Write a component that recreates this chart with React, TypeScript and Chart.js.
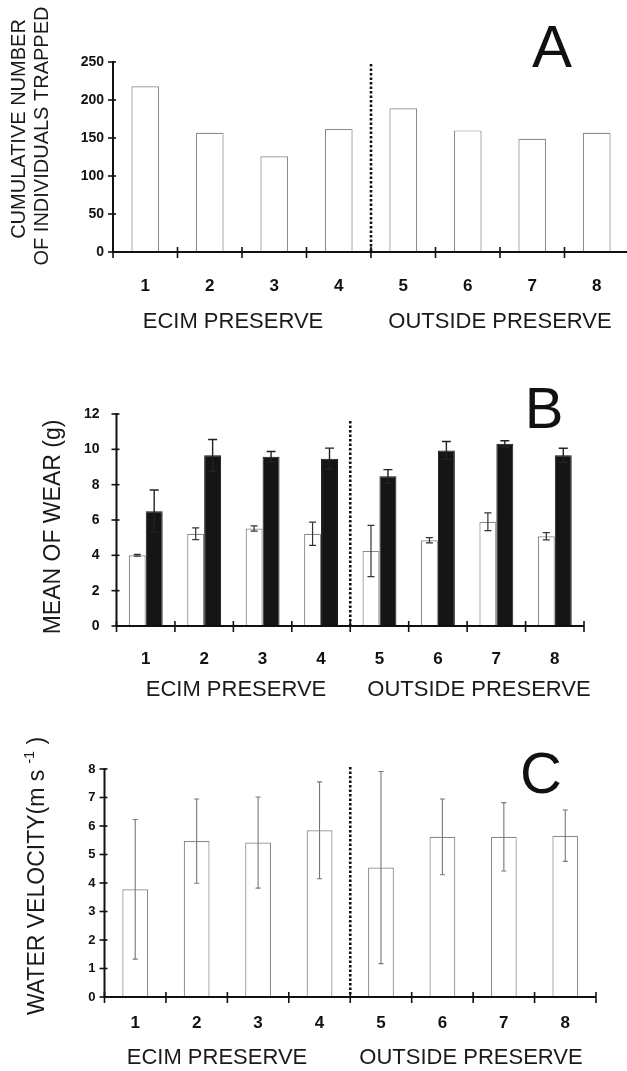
import React, { useEffect, useRef } from "react";
import { Chart, registerables } from "chart.js";

Chart.register(...registerables);

// ---------- data ----------
const sites = ["1", "2", "3", "4", "5", "6", "7", "8"];
const groupLabels = ["ECIM PRESERVE", "OUTSIDE PRESERVE"];

const trapped = [218, 157, 126, 162, 189, 160, 149, 157];

const wearWhite = [4.0, 5.22, 5.52, 5.22, 4.25, 4.85, 5.9, 5.08];
const wearWhiteErr = [0.05, 0.33, 0.15, 0.66, 1.45, 0.15, 0.5, 0.2];
const wearBlack = [6.5, 9.66, 9.58, 9.47, 8.47, 9.94, 10.32, 9.66];
const wearBlackErr = [1.2, 0.9, 0.3, 0.6, 0.38, 0.5, 0.17, 0.4];

const velocity = [3.78, 5.47, 5.42, 5.85, 4.54, 5.62, 5.62, 5.66];
const velocityErr = [2.45, 1.48, 1.6, 1.7, 3.37, 1.33, 1.2, 0.9];

const FONT = "'Liberation Sans', Arial, sans-serif";
Chart.defaults.font.family = FONT;

type Piece = { text: string; size: number; raise?: number };

const decorPlugin = {
  id: "decor",
  afterDraw(chart: any, _args: any, o: any) {
    const ctx = chart.ctx as CanvasRenderingContext2D;
    const ca = chart.chartArea;
    const xs = chart.scales.x;
    const ys = chart.scales.y;
    const n = chart.data.labels.length;
    const half = (xs.getPixelForValue(1) - xs.getPixelForValue(0)) / 2;
    ctx.save();

    // error bars
    (o.errors || []).forEach((e: any) => {
      const meta = chart.getDatasetMeta(e.dataset);
      const vals = chart.data.datasets[e.dataset].data;
      ctx.strokeStyle = e.color;
      ctx.lineWidth = e.width;
      meta.data.forEach((bar: any, i: number) => {
        const v = vals[i];
        const er = e.errs[i];
        const yt = ys.getPixelForValue(v + er);
        const yb = ys.getPixelForValue(v - er);
        const x = bar.x;
        ctx.beginPath();
        ctx.moveTo(x, yt);
        ctx.lineTo(x, yb);
        ctx.moveTo(x - e.cap / 2, yt);
        ctx.lineTo(x + e.cap / 2, yt);
        ctx.moveTo(x - e.cap / 2, yb);
        ctx.lineTo(x + e.cap / 2, yb);
        ctx.stroke();
      });
    });

    // axes
    ctx.strokeStyle = "#111";
    ctx.lineWidth = 2;
    ctx.beginPath();
    ctx.moveTo(ca.left, ca.top - 1);
    ctx.lineTo(ca.left, ca.bottom + 1);
    ctx.moveTo(ca.left - 1, ca.bottom);
    ctx.lineTo(o.axisRight ?? ca.right, ca.bottom);
    ctx.stroke();

    ctx.lineWidth = 1.6;
    ys.ticks.forEach((t: any) => {
      const y = ys.getPixelForValue(t.value);
      ctx.beginPath();
      ctx.moveTo(ca.left - 5, y);
      ctx.lineTo(ca.left + 3, y);
      ctx.stroke();
    });
    for (let i = 0; i <= n; i++) {
      const x = i < n ? xs.getPixelForValue(i) - half : xs.getPixelForValue(n - 1) + half;
      ctx.beginPath();
      ctx.moveTo(x, ca.bottom - 5);
      ctx.lineTo(x, ca.bottom + 6);
      ctx.stroke();
    }

    // dotted divider between site 4 and 5
    const xd = (xs.getPixelForValue(3) + xs.getPixelForValue(4)) / 2;
    ctx.setLineDash([2.5, 2]);
    ctx.lineWidth = 2.6;
    ctx.beginPath();
    ctx.moveTo(xd, ca.top + o.dotOffset);
    ctx.lineTo(xd, ca.bottom);
    ctx.stroke();
    ctx.setLineDash([]);

    // panel letter
    ctx.fillStyle = "#111";
    ctx.textAlign = "center";
    ctx.textBaseline = "alphabetic";
    ctx.font = `${o.letterSize}px ${FONT}`;
    ctx.fillText(o.letter, o.letterX, o.letterY);

    // group labels
    ctx.fillStyle = "#1a1a1a";
    ctx.textBaseline = "middle";
    ctx.font = `22px ${FONT}`;
    o.groups.forEach((g: any, i: number) => {
      ctx.fillText(groupLabels[i], g, o.groupY);
    });

    // rotated y titles
    o.titles.forEach((t: any) => {
      ctx.save();
      ctx.translate(t.x, t.y);
      ctx.rotate(-Math.PI / 2);
      ctx.textAlign = "left";
      ctx.textBaseline = "middle";
      let total = 0;
      t.pieces.forEach((p: Piece) => {
        ctx.font = `${p.size}px ${FONT}`;
        total += ctx.measureText(p.text).width;
      });
      let cx = -total / 2;
      t.pieces.forEach((p: Piece) => {
        ctx.font = `${p.size}px ${FONT}`;
        ctx.fillText(p.text, cx, -(p.raise || 0));
        cx += ctx.measureText(p.text).width;
      });
      ctx.restore();
    });

    ctx.restore();
  },
};

function makeOptions(p: any) {
  return {
    responsive: false,
    maintainAspectRatio: false,
    animation: false,
    layout: { padding: { left: 0, top: p.top, right: p.padRight, bottom: 0 } },
    plugins: {
      legend: { display: false },
      tooltip: { enabled: false },
      decor: p.decor,
    },
    scales: {
      x: {
        type: "category",
        offset: true,
        grid: { display: false, drawTicks: false, tickLength: 0 },
        border: { display: false },
        ticks: {
          padding: p.xPad,
          color: "#111",
          font: { size: 17, weight: "bold" },
          maxRotation: 0,
          autoSkip: false,
        },
        afterFit: (s: any) => {
          s.height = p.xHeight;
        },
      },
      y: {
        min: 0,
        max: p.max,
        grid: { display: false, drawTicks: false, tickLength: 0 },
        border: { display: false },
        ticks: {
          stepSize: p.step,
          padding: p.yPad,
          color: "#111",
          font: { size: p.yFont, weight: "bold" },
        },
        afterFit: (s: any) => {
          s.width = p.left;
        },
      },
    },
  };
}

export default function App() {
  const refA = useRef<HTMLCanvasElement>(null);
  const refB = useRef<HTMLCanvasElement>(null);
  const refC = useRef<HTMLCanvasElement>(null);

  useEffect(() => {
    document.body.style.margin = "0";
    const charts: Chart[] = [];

    charts.push(
      new Chart(refA.current!, {
        type: "bar",
        data: {
          labels: sites,
          datasets: [
            {
              data: trapped,
              backgroundColor: "#ffffff",
              borderColor: "#8a8a8a",
              borderWidth: 1.2,
              barPercentage: 0.43,
              categoryPercentage: 1,
            },
          ],
        },
        options: makeOptions({
          top: 62,
          padRight: 11,
          left: 113,
          xHeight: 345 - 252,
          xPad: 24,
          yPad: 9,
          yFont: 14,
          max: 250,
          step: 50,
          decor: {
            axisRight: 640,
            dotOffset: 2,
            letter: "A",
            letterSize: 60,
            letterX: 552,
            letterY: 67,
            groups: [233, 500],
            groupY: 322,
            errors: [],
            titles: [
              { x: 19, y: 129, pieces: [{ text: "CUMULATIVE NUMBER", size: 20 }] },
              { x: 42, y: 136, pieces: [{ text: "OF INDIVIDUALS TRAPPED", size: 20 }] },
            ],
          },
        }),
        plugins: [decorPlugin],
      } as any)
    );

    charts.push(
      new Chart(refB.current!, {
        type: "bar",
        data: {
          labels: sites,
          datasets: [
            {
              data: wearWhite,
              backgroundColor: "#ffffff",
              borderColor: "#8a8a8a",
              borderWidth: 1.2,
              barPercentage: 1,
              categoryPercentage: 0.58,
            },
            {
              data: wearBlack,
              backgroundColor: "#151515",
              borderColor: "#151515",
              borderWidth: 1,
              barPercentage: 1,
              categoryPercentage: 0.58,
            },
          ],
        },
        options: makeOptions({
          top: 69,
          padRight: 43,
          left: 116.5,
          xHeight: 360 - 281,
          xPad: 23,
          yPad: 17,
          yFont: 14,
          max: 12,
          step: 2,
          decor: {
            dotOffset: 7,
            letter: "B",
            letterSize: 58,
            letterX: 544,
            letterY: 83,
            groups: [236, 479],
            groupY: 345,
            errors: [
              { dataset: 0, errs: wearWhiteErr, color: "#333", width: 1.2, cap: 7 },
              { dataset: 1, errs: wearBlackErr, color: "#222", width: 1.4, cap: 9 },
            ],
            titles: [{ x: 54, y: 182, pieces: [{ text: "MEAN OF WEAR (g)", size: 23 }] }],
          },
        }),
        plugins: [decorPlugin],
      } as any)
    );

    charts.push(
      new Chart(refC.current!, {
        type: "bar",
        data: {
          labels: sites,
          datasets: [
            {
              data: velocity,
              backgroundColor: "#ffffff",
              borderColor: "#8a8a8a",
              borderWidth: 1.2,
              barPercentage: 0.42,
              categoryPercentage: 1,
            },
          ],
        },
        options: makeOptions({
          top: 64,
          padRight: 31,
          left: 104.5,
          xHeight: 366 - 292,
          xPad: 16,
          yPad: 9,
          yFont: 13,
          max: 8,
          step: 1,
          decor: {
            dotOffset: -2,
            letter: "C",
            letterSize: 58,
            letterX: 541,
            letterY: 88,
            groups: [217, 471],
            groupY: 353,
            errors: [{ dataset: 0, errs: velocityErr, color: "#777", width: 1.1, cap: 5 }],
            titles: [
              {
                x: 38,
                y: 171,
                pieces: [
                  { text: "WATER VELOCITY(m s ", size: 23 },
                  { text: "-1", size: 14, raise: 8 },
                  { text: " )", size: 23 },
                ],
              },
            ],
          },
        }),
        plugins: [decorPlugin],
      } as any)
    );

    return () => charts.forEach((c) => c.destroy());
  }, []);

  return (
    <div
      style={{
        position: "relative",
        width: 627,
        height: 1071,
        overflow: "hidden",
        background: "#ffffff",
      }}
    >
      <canvas ref={refA} width={640} height={345} style={{ position: "absolute", left: 0, top: 0 }} />
      <canvas ref={refB} width={627} height={360} style={{ position: "absolute", left: 0, top: 345 }} />
      <canvas ref={refC} width={627} height={366} style={{ position: "absolute", left: 0, top: 705 }} />
    </div>
  );
}
